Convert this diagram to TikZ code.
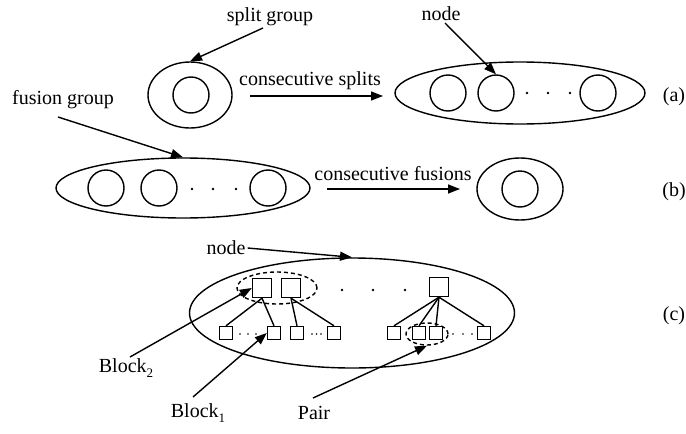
\documentclass[tikz,border=0pt]{standalone}
\usepackage{fontspec}
\setmainfont{Liberation Serif}
\usetikzlibrary{shapes.geometric,arrows.meta}
\newcommand{\lowsub}[1]{\raisebox{-5pt}{\fontsize{13}{13}\selectfont #1}}
\begin{document}
\begin{tikzpicture}[x=1pt,y=-1pt,
  every node/.style={font=\fontsize{20}{24}\selectfont, inner sep=0pt},
  lw/.style={line width=1.4pt},
  arr/.style={lw,-{Triangle[length=12pt,width=9pt]}},
  grp/.style={ellipse, draw, lw, inner sep=0pt},
  nd/.style={circle, draw, lw, minimum size=36pt, inner sep=0pt},
  bigsq/.style={rectangle, draw, lw, minimum size=19pt, inner sep=0pt},
  smsq/.style={rectangle, draw, lw, minimum size=13pt, inner sep=0pt},
  dashell/.style={ellipse, draw, lw, dashed, dash pattern=on 4pt off 3pt, inner sep=0pt},
  lbl/.style={anchor=center}
]
\useasboundingbox (0,0) rectangle (686,434);

% ---------- (a) ----------
\node[lbl] (splitlbl) at (270,17) {split group};
\node[grp, minimum width=84pt, minimum height=66pt] (sA) at (190,95) {};
\node[nd] (sAc) at (191,95) {};
\draw[arr] (263,28) coordinate (sgs) -- (sA.north);

\node[lbl] (cslbl) at (310,81) {consecutive splits};
\coordinate (csa) at (250,96);
\coordinate (csb) at (383,96);
\draw[arr] (csa) -- (csb);

\node[grp, minimum width=250pt, minimum height=62pt] (bA) at (520,93) {};
\node[nd] (a1) at (448,93) {};
\node[nd] (a2) at (496,93) {};
\node[nd] (a3) at (598,93) {};
\foreach \x in {527,548,570} \fill (\x,93) circle (1.3pt);
\node[lbl] (nodeA) at (441,14) {node};
\coordinate (nodeAs) at (445,23);
\draw[arr] (nodeAs) -- (a2.north);
\node[lbl] (la) at (674,97) {(a)};

% ---------- (b) ----------
\node[lbl] (fuslbl) at (63,100) {fusion group};
\node[grp, minimum width=254pt, minimum height=60pt] (bB) at (183,188) {};
\node[nd] (b1) at (106,188) {};
\node[nd] (b2) at (159,188) {};
\node[nd] (b3) at (268,188) {};
\foreach \x in {192,213,236} \fill (\x,189) circle (1.3pt);
\coordinate (fgs) at (58,117);
\draw[arr] (fgs) -- (bB.north);

\node[lbl] (cflbl) at (393,174) {consecutive fusions};
\coordinate (cfa) at (327,189);
\coordinate (cfb) at (460,189);
\draw[arr] (cfa) -- (cfb);

\node[grp, minimum width=86pt, minimum height=62pt] (sB) at (520,189) {};
\node[nd] (sBc) at (520,189) {};
\node[lbl] (lb) at (674,192) {(b)};

% ---------- (c) ----------
\node[grp, minimum width=325pt, minimum height=110pt] (bC) at (352,313) {};
\node[lbl] (nodeC) at (226,248) {node};
\draw[arr] (nodeC.east) ++(2pt,0) coordinate (nodeCs) -- (bC.north);

\node[bigsq] (q1) at (262,288) {};
\node[bigsq] (q2) at (291,288) {};
\node[bigsq] (q3) at (439,287) {};
\foreach \x in {342,373,405} \fill (\x,290) circle (1.3pt);
\node[dashell, minimum width=80pt, minimum height=32pt] (blk2) at (277,288) {};

\node[smsq] (pa) at (226,333) {};
\node[smsq] (pb) at (274,333) {};
\node[smsq] (pc) at (297,333) {};
\node[smsq] (pd) at (334,333) {};
\node[smsq] (pe) at (394,333) {};
\node[smsq] (pf) at (419,333) {};
\node[smsq] (pg) at (436,333) {};
\node[smsq] (ph) at (484,333) {};
\foreach \x in {240,248,256} \fill (\x,334) circle (0.9pt);
\foreach \x in {312,316.5,321} \fill (\x,334) circle (0.9pt);
\foreach \x in {453,463,472} \fill (\x,334) circle (0.9pt);
\node[dashell, minimum width=42pt, minimum height=22pt] (pair) at (427,334) {};

\draw[lw] (q1.south) -- (pa.north);
\draw[lw] (q1.south) -- (pb.north);
\draw[lw] (q2.south) -- (pc.north);
\draw[lw] (q2.south) -- (pd.north);
\draw[lw] (q3.south) -- (pe.north);
\draw[lw] (q3.south) -- (pf.north);
\draw[lw] (q3.south) -- (pg.north);
\draw[lw] (q3.south) -- (ph.north);

\node[lbl] (b2lbl) at (126,368) {Block\lowsub{2}};
\node[lbl] (b1lbl) at (198,413) {Block\lowsub{1}};
\node[lbl] (pairlbl) at (314,413) {Pair};
\coordinate (b2s) at (130,357);
\coordinate (b1s) at (193,397);
\coordinate (ps) at (313,398);
\draw[arr] (b2s) -- (q1.west);
\draw[arr] (b1s) -- (pb.west);
\draw[arr] (ps) -- (pair.south);
\node[lbl] (lc) at (674,316) {(c)};
\end{tikzpicture}
\end{document}
